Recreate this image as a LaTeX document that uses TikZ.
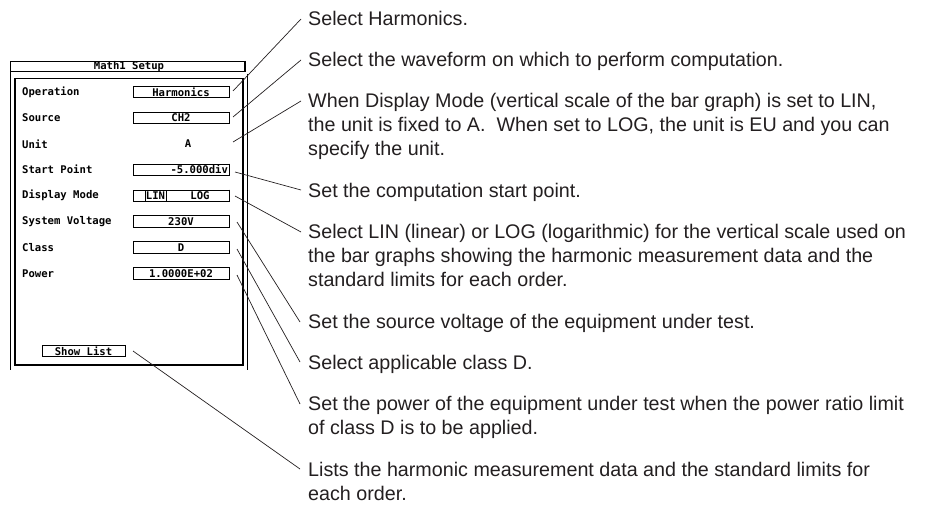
\documentclass[tikz,border=0pt]{standalone}
\usepackage{fontspec}
\setmainfont{Liberation Sans}
\newfontfamily\panelmono{DejaVu Sans Mono}
\definecolor{ink}{HTML}{231F20}
\begin{document}
\begin{tikzpicture}[x=1pt,y=-1pt,
  pfont/.style={font=\panelmono\bfseries\fontsize{10.6}{12}\selectfont},
  plabel/.style={pfont, anchor=west, inner sep=0},
  field/.style={pfont, draw, line width=0.6pt, minimum width=96pt, minimum height=11.5pt, inner sep=0},
  desc/.style={anchor=north west, inner sep=0, align=left, text=ink,
    font=\fontsize{19.7}{24}\selectfont},
  callout/.style={draw=ink, line width=0.7pt},
  shadowedge/.style={line width=1.6pt}
]
\useasboundingbox (0,0) rectangle (930,511);

% ---------- panel ----------
\draw[line width=0.7pt] (10,61) rectangle (245,71.5);
\draw[shadowedge] (245,61) -- (245,72);
\node[pfont, anchor=base, inner sep=0] (title) at (129,70) {Math1 Setup};
\draw[line width=0.7pt] (10,71.5) -- (10,370);
\draw[line width=0.7pt] (247.8,74) -- (247.8,370);
\draw[line width=1.7pt] (15,78.5) rectangle (243,365);

\node[plabel] (lOp)  at (22,92)    {Operation};
\node[plabel] (lSrc) at (22,117.9) {Source};
\node[plabel] (lUn)  at (22,143.8) {Unit};
\node[plabel] (lSt)  at (22,169.7) {Start Point};
\node[plabel] (lDm)  at (22,195.6) {Display Mode};
\node[plabel] (lSv)  at (22,221.5) {System Voltage};
\node[plabel] (lCl)  at (22,247.4) {Class};
\node[plabel] (lPw)  at (22,273.3) {Power};

\node[field] (fOp)  at (181,92)    {Harmonics};
\node[field] (fSrc) at (181,117.9) {CH2};
\node[pfont, inner sep=0] (fUn) at (188,143.8) {A};
\node[field, text width=94pt, align=right] (fSt) at (181,169.7) {-5.000div};
\node[field] (fDm)  at (181,195.6) {};
\node[pfont, draw, line width=0.6pt, minimum width=21pt, minimum height=11.5pt, inner sep=0] (fLin) at (155.5,195.6) {LIN};
\node[pfont, inner sep=0] (fLog) at (200,195.6) {LOG};
\node[field] (fSv)  at (181,221.5) {230V};
\node[field] (fCl)  at (181,247.4) {D};
\node[field] (fPw)  at (181,273.3) {1.0000E+02};
\node[field, minimum width=83pt] (fSl) at (83.5,351) {Show List};

\foreach \n in {fOp,fSrc,fSt,fDm,fSv,fCl,fPw,fSl}
  \draw[shadowedge] (\n.north east) -- (\n.south east);

% ---------- descriptions ----------
\node[desc] (t1) at (308,10.6)  {Select Harmonics.};
\node[desc] (t2) at (308,52)    {Select the waveform on which to perform computation.};
\node[desc] (t3) at (308,93.4)  {When Display Mode (vertical scale of the bar graph) is set to LIN,\\the unit is fixed to A.\ \ When set to LOG, the unit is EU and you can\\specify the unit.};
\node[desc] (t4) at (308,182.8) {Set the computation start point.};
\node[desc] (t5) at (308,224.2) {Select LIN (linear) or LOG (logarithmic) for the vertical scale used on\\the bar graphs showing the harmonic measurement data and the\\standard limits for each order.};
\node[desc] (t6) at (308,313.6) {Set the source voltage of the equipment under test.};
\node[desc] (t7) at (308,355)   {Select applicable class D.};
\node[desc] (t8) at (308,396.4) {Set the power of the equipment under test when the power ratio limit\\of class D is to be applied.};
\node[desc] (t9) at (308,461.8) {Lists the harmonic measurement data and the standard limits for\\each order.};

% ---------- callouts ----------
\coordinate (a1) at (233,91);   \coordinate (b1) at (301,19);
\coordinate (a2) at (233,117);  \coordinate (b2) at (301,60);
\coordinate (a3) at (233,142);  \coordinate (b3) at (301,101);
\coordinate (a4) at (235,172);  \coordinate (b4) at (301,190);
\coordinate (a5) at (235,196);  \coordinate (b5) at (301,232);
\coordinate (a6) at (237,222);  \coordinate (b6) at (300,322);
\coordinate (a7) at (237,249);  \coordinate (b7) at (300,362);
\coordinate (a8) at (237,275);  \coordinate (b8) at (300,404);
\coordinate (a9) at (133,351);  \coordinate (b9) at (300,469);
\foreach \i in {1,...,9} \draw[callout] (a\i) -- (b\i);
\end{tikzpicture}
\end{document}
